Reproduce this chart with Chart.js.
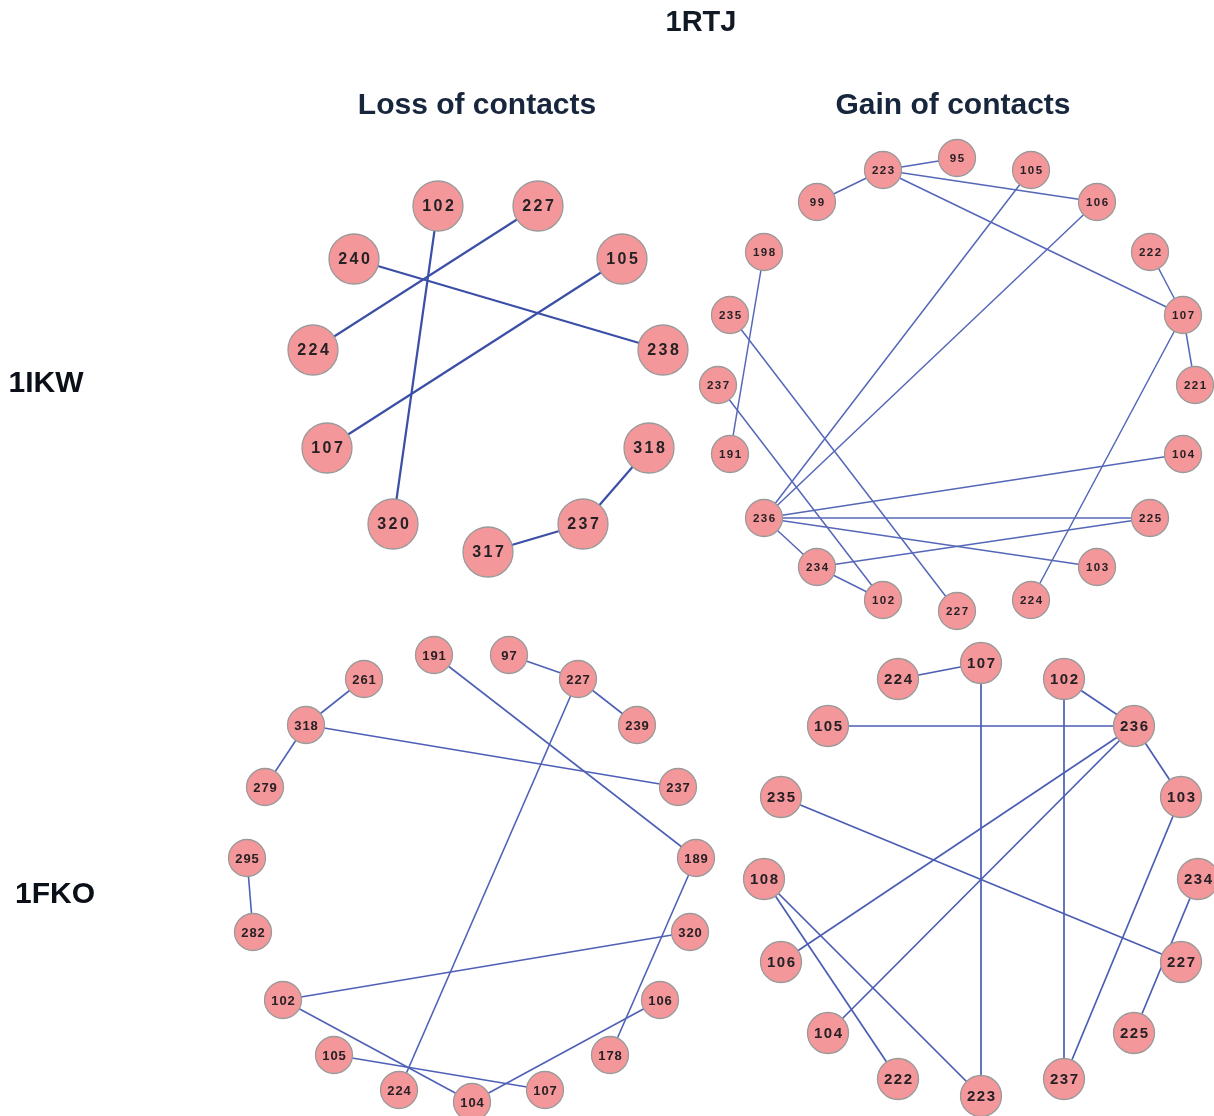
<!DOCTYPE html>
<html>
<head>
<meta charset="utf-8">
<script src="https://cdn.jsdelivr.net/npm/chart.js@4.4.1/dist/chart.umd.min.js"></script>
<style>
  html, body { margin: 0; padding: 0; background: #ffffff; }
  #wrap { position: relative; width: 1214px; height: 1116px; overflow: hidden; }
  #c { position: absolute; left: 0; top: 0; }
  .t { position: absolute; font-family: "Liberation Sans", Arial, sans-serif; font-weight: bold; font-size: 30px; white-space: nowrap; transform: translate(-50%, -50%); line-height: 1; }
</style>
</head>
<body>
<div id="wrap">
  <canvas id="c" width="1214" height="1116"></canvas>
  <div class="t" style="left:701px;top:21px;color:#111a24;font-size:29px;">1RTJ</div>
  <div class="t" style="left:477px;top:104px;color:#17263c;">Loss of contacts</div>
  <div class="t" style="left:953px;top:104px;color:#17263c;">Gain of contacts</div>
  <div class="t" style="left:46px;top:382px;color:#0b0f18;">1IKW</div>
  <div class="t" style="left:55px;top:893px;color:#0b0f18;">1FKO</div>
</div>
<script>
// ---- Panel: 1IKW, loss of contacts ----
const ikwLossLabels = ["102","227","240","105","224","238","107","318","320","237","317"];
const ikwLossX      = [438, 538, 354, 622, 313, 663, 327, 649, 393, 583, 488];
const ikwLossY      = [206, 206, 259, 259, 350, 350, 448, 448, 524, 524, 552];
const ikwLossEdges  = [["102","320"],["227","224"],["240","238"],["105","107"],["318","237"],["237","317"]];

// ---- Panel: 1IKW, gain of contacts ----
const ikwGainLabels = ["223","95","99","105","106","198","222","235","107","237","221","191","104","236","225","234","103","102","227","224"];
const ikwGainX      = [883, 957, 817, 1031, 1097, 764, 1150, 730, 1183, 718, 1195, 730, 1183, 764, 1150, 817, 1097, 883, 957, 1031];
const ikwGainY      = [170, 158, 202, 170, 202, 252, 252, 315, 315, 385, 385, 454, 454, 518, 518, 567, 567, 600, 611, 600];
const ikwGainEdges  = [["223","95"],["223","99"],["223","106"],["223","107"],["105","236"],["106","236"],["222","107"],["107","221"],["107","224"],["198","191"],["235","227"],["237","102"],["236","104"],["236","225"],["236","103"],["236","234"],["234","225"],["234","102"]];

// ---- Panel: 1FKO, loss of contacts ----
const fkoLossLabels = ["191","97","261","227","318","239","279","237","295","189","282","320","102","106","105","178","224","107","104"];
const fkoLossX      = [434, 509, 364, 578, 306, 637, 265, 678, 247, 696, 253, 690, 283, 660, 334, 610, 399, 545, 472];
const fkoLossY      = [655, 655, 679, 679, 725, 725, 787, 787, 858, 858, 932, 932, 1000, 1000, 1055, 1055, 1090, 1090, 1102];
const fkoLossEdges  = [["261","318"],["318","279"],["318","237"],["191","189"],["97","227"],["227","239"],["227","224"],["295","282"],["189","178"],["320","102"],["102","104"],["105","107"],["106","104"]];

// ---- Panel: 1FKO, gain of contacts ----
const fkoGainLabels = ["107","224","102","105","236","235","103","108","234","106","227","104","225","222","237","223"];
const fkoGainX      = [981, 898, 1064, 828, 1134, 781, 1181, 764, 1198, 781, 1181, 828, 1134, 898, 1064, 981];
const fkoGainY      = [663, 679, 679, 726, 726, 797, 797, 879, 879, 962, 962, 1033, 1033, 1079, 1079, 1096];
const fkoGainEdges  = [["224","107"],["107","223"],["102","237"],["102","236"],["105","236"],["236","103"],["236","106"],["236","104"],["103","237"],["235","227"],["108","222"],["108","223"],["234","225"]];

const panels = [
  { labels: ikwLossLabels, xs: ikwLossX, ys: ikwLossY, edges: ikwLossEdges, r: 25, font: 16, spacing: "2.5px", edgeColor: "#3b4fa6", edgeWidth: 2.2 },
  { labels: ikwGainLabels, xs: ikwGainX, ys: ikwGainY, edges: ikwGainEdges, r: 18.5, font: 11.5, spacing: "1.5px", edgeColor: "#5567b8", edgeWidth: 1.5 },
  { labels: fkoLossLabels, xs: fkoLossX, ys: fkoLossY, edges: fkoLossEdges, r: 18.5, font: 13, spacing: "1px", edgeColor: "#4f61b6", edgeWidth: 1.6 },
  { labels: fkoGainLabels, xs: fkoGainX, ys: fkoGainY, edges: fkoGainEdges, r: 20.5, font: 15, spacing: "1.5px", edgeColor: "#4a5db3", edgeWidth: 1.7 }
];

const datasets = [];
panels.forEach((p, pi) => {
  datasets.push({
    type: 'scatter',
    label: 'nodes' + pi,
    data: p.labels.map((l, i) => ({ x: p.xs[i], y: p.ys[i], name: l })),
    pointRadius: p.r,
    pointHoverRadius: p.r,
    backgroundColor: '#f4979a',
    borderColor: '#9a9a9a',
    borderWidth: 1.3,
    clip: false,
    order: 0,
    _isNode: true, _font: p.font, _spacing: p.spacing
  });
  p.edges.forEach(([a, b]) => {
    const ia = p.labels.indexOf(a), ib = p.labels.indexOf(b);
    datasets.push({
      type: 'scatter',
      label: 'edge',
      data: [{ x: p.xs[ia], y: p.ys[ia] }, { x: p.xs[ib], y: p.ys[ib] }],
      showLine: true,
      pointRadius: 0,
      pointHoverRadius: 0,
      borderColor: p.edgeColor,
      borderWidth: p.edgeWidth,
      fill: false,
      clip: false,
      order: 1
    });
  });
});

const nodeLabels = {
  id: 'nodeLabels',
  afterDatasetsDraw(chart) {
    const ctx = chart.ctx;
    chart.data.datasets.forEach((ds, di) => {
      if (!ds._isNode) return;
      const meta = chart.getDatasetMeta(di);
      ctx.save();
      ctx.font = 'bold ' + ds._font + 'px "Liberation Sans", Arial, sans-serif';
      ctx.fillStyle = '#262124';
      ctx.textAlign = 'center';
      ctx.textBaseline = 'middle';
      if ('letterSpacing' in ctx) ctx.letterSpacing = ds._spacing;
      meta.data.forEach((el, i) => {
        const sp = parseFloat(ds._spacing) || 0;
        ctx.fillText(ds.data[i].name, el.x + sp / 2, el.y + 1);
      });
      ctx.restore();
    });
  }
};

new Chart(document.getElementById('c'), {
  type: 'scatter',
  data: { datasets },
  options: {
    responsive: false,
    animation: false,
    devicePixelRatio: 1,
    layout: { padding: 0, autoPadding: false },
    plugins: { legend: { display: false }, tooltip: { enabled: false }, title: { display: false } },
    events: [],
    scales: {
      x: { type: 'linear', min: 0, max: 1214, display: false },
      y: { type: 'linear', min: 0, max: 1116, reverse: true, display: false }
    }
  },
  plugins: [nodeLabels]
});
</script>
</body>
</html>
